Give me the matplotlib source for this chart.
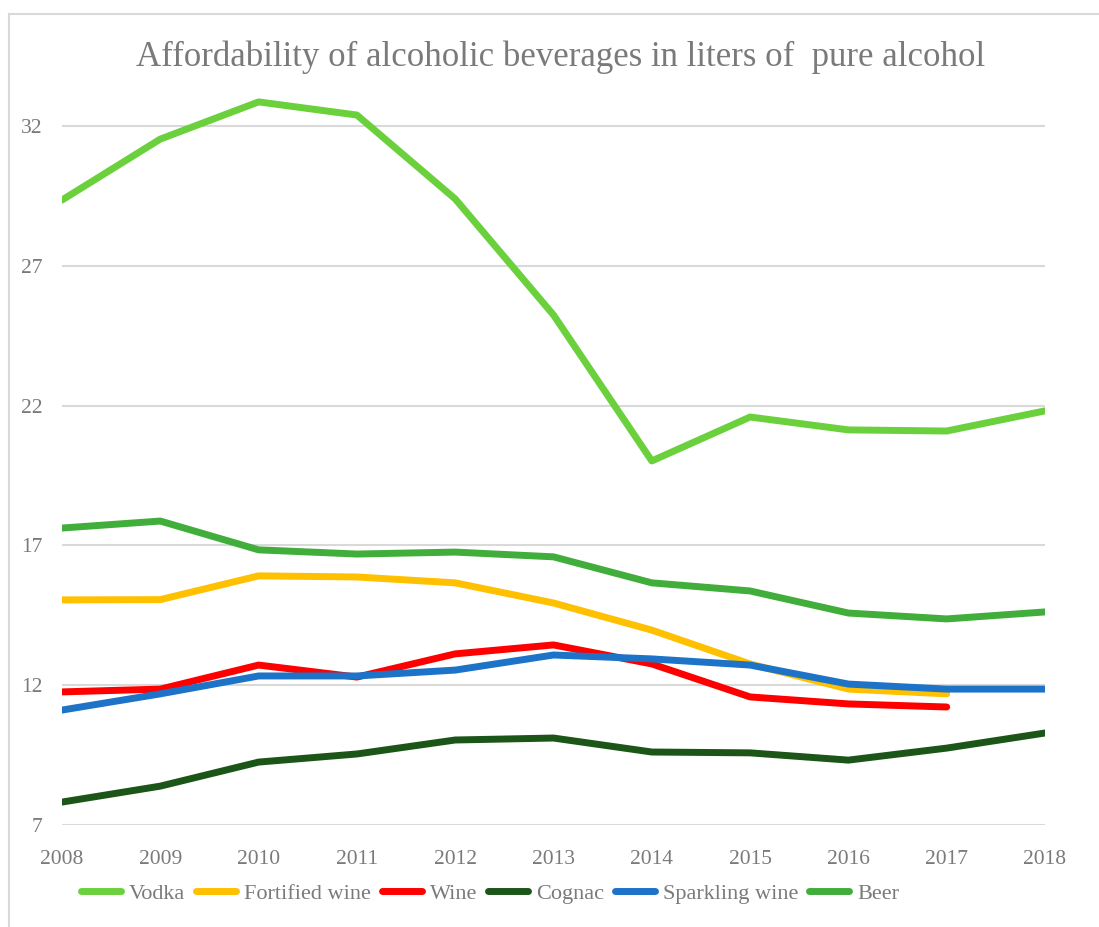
import matplotlib.pyplot as plt
from matplotlib.lines import Line2D

years = list(range(2008, 2019))

vodka = [29.35, 31.53, 32.86, 32.39, 29.39, 25.24, 20.02, 21.59, 21.13, 21.09, 21.81]
fortified = [15.05, 15.06, 15.91, 15.87, 15.66, 14.94, 13.97, 12.76, 11.86, 11.69]
wine = [11.76, 11.86, 12.72, 12.29, 13.12, 13.44, 12.76, 11.58, 11.33, 11.22]
cognac = [7.82, 8.39, 9.25, 9.54, 10.04, 10.11, 9.61, 9.58, 9.32, 9.75, 10.29]
sparkling = [11.11, 11.69, 12.33, 12.33, 12.54, 13.08, 12.94, 12.72, 12.04, 11.86, 11.86]
beer = [17.62, 17.87, 16.84, 16.69, 16.76, 16.59, 15.66, 15.37, 14.58, 14.37, 14.62]

series = [
    ("Vodka", vodka, "#6AD13D"),
    ("Fortified wine", fortified, "#FFC000"),
    ("Wine", wine, "#FF0000"),
    ("Cognac", cognac, "#1B5518"),
    ("Sparkling wine", sparkling, "#1C73C8"),
    ("Beer", beer, "#41AD3B"),
]
yticks = [7, 12, 17, 22, 27, 32]

plt.rcParams['font.family'] = ['Liberation Serif', 'DejaVu Serif']
txt = '#7a7a7a'

fig = plt.figure(figsize=(10.99, 9.27), dpi=100, facecolor='white')
ax = fig.add_axes([62 / 1099, 1 - 825 / 927, (1045 - 62) / 1099, (825 - 84) / 927])

for name, vals, col in series:
    ax.plot(years[:len(vals)], vals, color=col, lw=5, label=name,
            solid_capstyle='round', solid_joinstyle='round', zorder=3)

ax.set_xlim(2008, 2018)
ax.set_ylim(7, 33.5)
ax.set_xticks(years)
ax.set_yticks(yticks)
ax.grid(axis='y', color='#d9d9d9', lw=1.5, zorder=0)
for s in ax.spines.values():
    s.set_visible(False)
ax.tick_params(axis='both', length=0, labelsize=15.5, colors=txt)
ax.tick_params(axis='y', pad=14)
ax.tick_params(axis='x', pad=18)

fig.text(561 / 1099, 1 - 57 / 927, "Affordability of alcoholic beverages in liters of  pure alcohol",
         ha='center', va='center', fontsize=25, color=txt)

handles = [Line2D([0], [0], color=c, lw=5, solid_capstyle='round') for _, _, c in series]
fig.legend(handles, [n for n, _, _ in series], loc='center',
           bbox_to_anchor=(490 / 1099, 1 - 894 / 927), ncol=6, frameon=False,
           fontsize=16, labelcolor=txt, handlelength=1.8, handletextpad=0.35,
           columnspacing=0.5)

# chart border (top and left only visible)
fig.add_artist(Line2D([9 / 1099, 1], [1 - 14 / 927] * 2, color='#d9d9d9', lw=1.5,
                      transform=fig.transFigure))
fig.add_artist(Line2D([9 / 1099] * 2, [0, 1 - 14 / 927], color='#d9d9d9', lw=1.5,
                      transform=fig.transFigure))

fig.savefig('out.png', dpi=100, facecolor='white')
